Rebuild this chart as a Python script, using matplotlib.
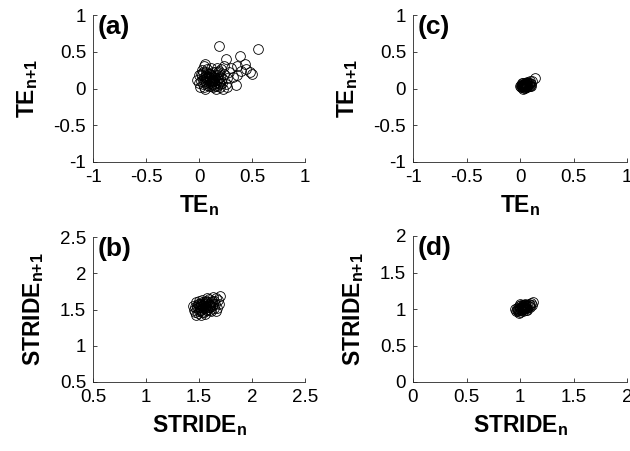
import matplotlib
matplotlib.use("Agg")
import matplotlib.pyplot as plt

plt.rcParams['font.family'] = ['Liberation Sans', 'DejaVu Sans']
plt.rcParams['mathtext.fontset'] = 'custom'
plt.rcParams['mathtext.rm'] = 'Liberation Sans'
plt.rcParams['mathtext.bf'] = 'Liberation Sans:bold'

# ---- Panel (a): TE_n vs TE_n+1 ----
a_x = [0.02, 0.05, 0.08, 0.10, 0.12, 0.15, 0.18, 0.20, 0.22, 0.03,
       0.06, 0.09, 0.11, 0.14, 0.17, 0.19, 0.21, 0.24, 0.00, 0.04,
       0.07, 0.10, 0.13, 0.16, 0.19, 0.23, 0.01, 0.05, 0.08, 0.12,
       0.15, 0.18, 0.21, 0.25, -0.02, 0.03, 0.06, 0.09, 0.11, 0.14,
       0.17, 0.20, 0.04, 0.07, 0.10, 0.13, 0.16, 0.02, 0.08, 0.12,
       0.15, 0.06, 0.09, 0.11, 0.13, 0.07, 0.10, 0.14, 0.05, 0.18,
       0.22, 0.26, 0.00, 0.16, 0.20, 0.09, 0.12, 0.07, 0.15, 0.04,
       0.19, 0.56, 0.39, 0.25, 0.43, 0.36, 0.48, 0.44, 0.35, 0.36,
       0.30, 0.06, 0.24, 0.50, 0.28, 0.40, 0.32, 0.26]
a_y = [0.10, 0.15, 0.05, 0.20, 0.12, 0.08, 0.18, 0.02, 0.14, 0.25,
       0.00, 0.10, 0.28, 0.16, 0.04, 0.24, 0.10, 0.20, 0.18, 0.06,
       0.22, 0.14, 0.02, 0.12, 0.08, 0.00, 0.02, 0.30, 0.16, 0.06,
       0.22, 0.13, 0.26, 0.06, 0.12, 0.18, 0.10, 0.03, 0.18, 0.10,
       0.28, 0.16, 0.12, 0.14, 0.08, 0.22, 0.00, 0.20, 0.26, 0.17,
       0.14, 0.16, 0.20, 0.04, 0.12, 0.08, 0.12, 0.06, 0.02, 0.22,
       0.08, 0.14, 0.08, 0.18, 0.06, 0.15, 0.10, 0.18, 0.04, 0.22,
       0.58, 0.54, 0.44, 0.40, 0.34, 0.30, 0.23, 0.26, 0.05, 0.19,
       0.28, 0.33, 0.30, 0.20, 0.22, 0.24, 0.16, 0.02]

# ---- Panel (b): STRIDE_n vs STRIDE_n+1 ----
b_x = [1.45, 1.48, 1.50, 1.52, 1.54, 1.56, 1.58, 1.60, 1.62, 1.64,
       1.47, 1.49, 1.51, 1.53, 1.55, 1.57, 1.59, 1.61, 1.63, 1.66,
       1.44, 1.46, 1.50, 1.52, 1.54, 1.56, 1.58, 1.60, 1.62, 1.68,
       1.48, 1.50, 1.53, 1.55, 1.57, 1.59, 1.61, 1.65, 1.67, 1.70,
       1.46, 1.49, 1.51, 1.53, 1.55, 1.57, 1.59, 1.63, 1.66, 1.69,
       1.52, 1.56, 1.47, 1.54, 1.58, 1.64, 1.50, 1.56, 1.60, 1.52]
b_y = [1.50, 1.55, 1.48, 1.58, 1.52, 1.60, 1.50, 1.56, 1.62, 1.52,
       1.60, 1.45, 1.53, 1.63, 1.47, 1.55, 1.65, 1.48, 1.58, 1.66,
       1.55, 1.47, 1.57, 1.50, 1.56, 1.52, 1.60, 1.50, 1.55, 1.63,
       1.52, 1.62, 1.55, 1.58, 1.49, 1.54, 1.60, 1.58, 1.52, 1.68,
       1.53, 1.58, 1.50, 1.46, 1.54, 1.62, 1.57, 1.67, 1.48, 1.57,
       1.43, 1.44, 1.42, 1.60, 1.66, 1.62, 1.54, 1.57, 1.53, 1.56]

# ---- Panel (c): TE_n vs TE_n+1 ----
c_x = [0.01, 0.02, 0.03, 0.04, 0.05, 0.06, 0.07, 0.08, 0.09, 0.10,
       0.02, 0.03, 0.04, 0.05, 0.06, 0.07, 0.08, 0.09, 0.01, 0.03,
       0.04, 0.05, 0.06, 0.07, 0.08, 0.02, 0.03, 0.05, 0.06, 0.07,
       0.04, 0.05, 0.06, 0.04, 0.05, 0.03, 0.06, 0.05, 0.07, 0.02,
       0.11, 0.14, 0.09, 0.00, 0.10]
c_y = [0.02, 0.05, 0.00, 0.04, 0.07, 0.02, 0.05, 0.08, 0.03, 0.06,
       0.08, 0.03, 0.06, 0.01, 0.05, 0.09, 0.04, 0.07, 0.05, 0.07,
       0.01, 0.04, 0.08, 0.02, 0.06, 0.02, 0.05, 0.03, 0.06, 0.04,
       0.03, 0.05, 0.04, 0.05, 0.06, 0.04, 0.03, 0.02, 0.07, 0.04,
       0.10, 0.14, 0.10, 0.03, 0.04]

# ---- Panel (d): STRIDE_n vs STRIDE_n+1 ----
d_x = [0.96, 0.98, 0.99, 1.00, 1.01, 1.02, 1.03, 1.04, 1.05, 1.06,
       1.07, 1.08, 1.09, 1.10, 0.97, 0.99, 1.00, 1.01, 1.02, 1.03,
       1.04, 1.05, 1.06, 1.07, 1.08, 0.98, 1.00, 1.02, 1.03, 1.04,
       1.05, 1.06, 1.01, 1.03, 1.02, 1.04, 1.03, 0.97, 1.09, 1.12,
       1.11, 0.95, 1.00, 1.07, 0.99]
d_y = [0.97, 1.00, 0.95, 1.02, 0.98, 1.04, 1.00, 1.06, 1.02, 0.99,
       1.05, 1.07, 1.03, 1.08, 1.02, 0.99, 0.96, 1.05, 1.01, 0.97,
       1.03, 1.07, 1.04, 1.01, 1.04, 0.97, 1.00, 0.98, 1.03, 1.00,
       1.05, 1.02, 1.02, 1.06, 1.03, 1.02, 1.01, 0.99, 1.06, 1.10,
       1.06, 1.00, 1.07, 0.99, 1.04]

te_ticks = [-1, -0.5, 0, 0.5, 1]
te_ticklabels = ['-1', '-0.5', '0', '0.5', '1']
b_ticks = [0.5, 1, 1.5, 2, 2.5]
b_ticklabels = ['0.5', '1', '1.5', '2', '2.5']
d_ticks = [0, 0.5, 1, 1.5, 2]
d_ticklabels = ['0', '0.5', '1', '1.5', '2']

te_xlabel = r'$\mathbf{TE_n}$'
te_ylabel = r'$\mathbf{TE_{n{+}1}}$'
st_xlabel = r'$\mathbf{STRIDE_n}$'
st_ylabel = r'$\mathbf{STRIDE_{n{+}1}}$'

W, H = 630, 451
fig = plt.figure(figsize=(W / 100, H / 100), dpi=100)

def make_ax(left, top, right, bottom):
    return fig.add_axes([left / W, 1 - bottom / H, (right - left) / W, (bottom - top) / H])

panels = [
    (make_ax(93, 15, 305, 162), a_x, a_y, te_ticks, te_ticklabels, te_ticks, te_ticklabels, te_xlabel, te_ylabel, '(a)'),
    (make_ax(93, 237, 305, 382), b_x, b_y, b_ticks, b_ticklabels, b_ticks, b_ticklabels, st_xlabel, st_ylabel, '(b)'),
    (make_ax(413, 15, 627, 162), c_x, c_y, te_ticks, te_ticklabels, te_ticks, te_ticklabels, te_xlabel, te_ylabel, '(c)'),
    (make_ax(413, 236, 627, 382), d_x, d_y, d_ticks, d_ticklabels, d_ticks, d_ticklabels, st_xlabel, st_ylabel, '(d)'),
]

for ax, xs, ys, xt, xtl, yt, ytl, xl, yl, tag in panels:
    ax.plot(xs, ys, linestyle='none', marker='o', markersize=7,
            markerfacecolor='none', markeredgecolor='black', markeredgewidth=0.6,
            clip_on=False)
    ax.set_xlim(xt[0], xt[-1])
    ax.set_ylim(yt[0], yt[-1])
    ax.set_xticks(xt)
    ax.set_xticklabels(xtl)
    ax.set_yticks(yt)
    ax.set_yticklabels(ytl)
    for s in ['top', 'right']:
        ax.spines[s].set_visible(False)
    for s in ['left', 'bottom']:
        ax.spines[s].set_linewidth(0.6)
        ax.spines[s].set_color('#262626')
    ax.tick_params(direction='in', length=3, width=0.6, labelsize=13.5, pad=5,
                   colors='#262626', labelcolor='black')
    ax.set_xlabel(xl, fontsize=16.5, labelpad=5)
    ax.set_ylabel(yl, fontsize=16.5, labelpad=10)
    ax.text(0.02, 1.0, tag, transform=ax.transAxes, fontsize=19,
            fontweight='bold', va='top', ha='left')

fig.savefig('out.png', dpi=100)
